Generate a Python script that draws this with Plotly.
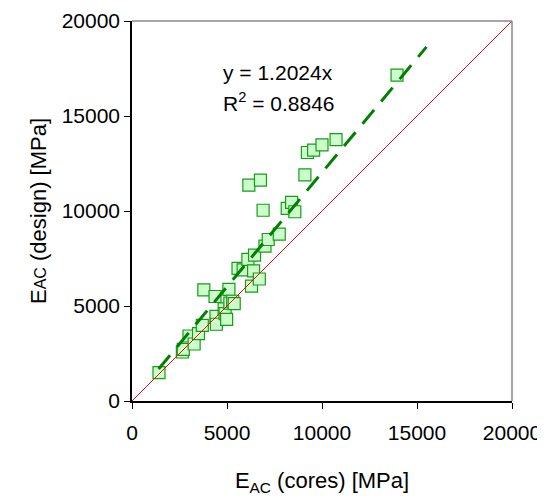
import plotly.graph_objects as go

# E_AC values [MPa]
e_cores = [1420, 2650, 2700, 3000, 3270, 3500, 3700, 3780, 4370, 4420,
           4440, 4850, 4900, 4980, 5100, 5150, 5300, 5380, 5580, 5850,
           6100, 6290, 6400, 6450, 6700, 7000, 7170, 7750, 6150, 6760,
           6900, 8170, 8400, 8570, 9100, 9230, 9560, 10000, 10740, 13950]
e_design = [1490, 2580, 2720, 3420, 3000, 3550, 3980, 5850, 5500, 4450,
            4040, 4850, 4600, 4300, 5880, 5150, 5250, 5120, 6980, 6900,
            7450, 6050, 6850, 7680, 6420, 8150, 8500, 8780, 11360, 11620,
            10040, 10140, 10450, 9960, 11900, 13080, 13200, 13480, 13760, 17150]

# fitted line y = 1.2024x and the 1:1 line
slope = 1.2024
fit_x = [1400, 15500]
fit_y = [slope * v for v in fit_x]
ident = [0, 20000]
ticks = [0, 5000, 10000, 15000, 20000]
tick_text = ["0", "5000", "10000", "15000", "20000"]

FONT = "Liberation Sans, Arial, sans-serif"

fig = go.Figure()

fig.add_trace(go.Scatter(x=e_cores, y=e_design, mode="markers",
                         marker=dict(symbol="square", size=12, color="#ccffcc",
                                     line=dict(color="#169c16", width=1.2))))
fig.add_trace(go.Scatter(x=ident, y=ident, mode="lines",
                         line=dict(color="#ff0000", width=1), hoverinfo="skip"))
fig.add_trace(go.Scatter(x=fit_x, y=fit_y, mode="lines",
                         line=dict(color="#008000", width=3, dash="18px,11px")))

# fit equation
fig.add_annotation(x=4700, y=17300, xanchor="left", yanchor="middle", showarrow=False,
                   text="y = 1.2024x", font=dict(size=21, color="black", family=FONT))
fig.add_annotation(x=4700, y=15750, xanchor="left", yanchor="middle", showarrow=False,
                   text="R<sup>2</sup> = 0.8846", font=dict(size=21, color="black", family=FONT))

# grey top/right frame
fig.add_shape(type="line", xref="paper", yref="paper", x0=0, y0=1, x1=1, y1=1,
              line=dict(color="#888888", width=1.5))
fig.add_shape(type="line", xref="paper", yref="paper", x0=1, y0=0, x1=1, y1=1,
              line=dict(color="#888888", width=1.5))

fig.update_xaxes(range=[0, 20000], tickvals=ticks, ticktext=tick_text,
                 showgrid=False, zeroline=False, automargin=False,
                 showline=True, linecolor="black", linewidth=1.5,
                 ticks="outside", ticklen=6, tickcolor="black",
                 ticklabelstandoff=6,
                 tickfont=dict(size=21, color="black", family=FONT),
                 title=dict(text="E<sub>AC</sub> (cores) [MPa]", standoff=30,
                            font=dict(size=22, color="black", family=FONT)))
fig.update_yaxes(range=[0, 20000], tickvals=ticks, ticktext=tick_text,
                 ticksuffix="\u00a0",
                 showgrid=False, zeroline=False, automargin=False,
                 showline=True, linecolor="black", linewidth=1.5,
                 ticks="outside", ticklen=6, tickcolor="black",
                 tickfont=dict(size=21, color="black", family=FONT),
                 title=dict(text="E<span style='font-size:16px'>AC</span> (design) [MPa]",
                            standoff=9,
                            font=dict(size=22, color="black", family=FONT)))

# the page adds an 8px body offset, so margins are shifted to keep the plot box in place
fig.update_layout(width=545, height=496, showlegend=False,
                  plot_bgcolor="white", paper_bgcolor="white",
                  margin=dict(l=124, r=41, t=13, b=103))

fig.write_html("out.html")
